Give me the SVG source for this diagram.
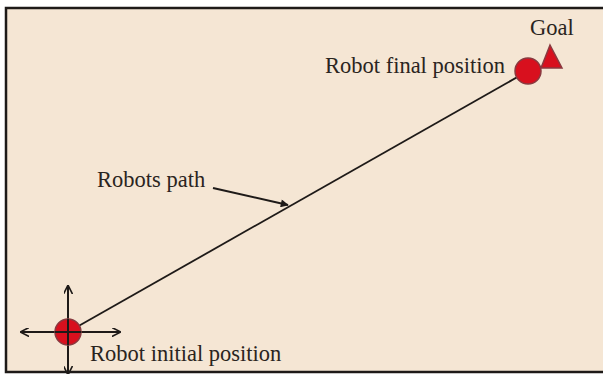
<svg xmlns="http://www.w3.org/2000/svg" width="603" height="374" viewBox="0 0 603 374">
<defs>
<style>
.t{font-family:"Liberation Serif","Times New Roman",serif;font-size:22.5px;fill:#2a2420}
.ln{stroke:#1e1a18;stroke-width:2;fill:none}
.bot{fill:#d8101e;stroke:#8a3a40;stroke-width:1.5}
</style>
<marker id="ah" viewBox="0 0 10 10" refX="9" refY="5" markerWidth="9" markerHeight="9" markerUnits="userSpaceOnUse" orient="auto">
<path d="M0,0 L10,5 L0,10" fill="none" stroke="#1e1a18" stroke-width="1.8"/>
</marker>
<marker id="ahf" viewBox="0 0 10 10" refX="9" refY="5" markerWidth="10" markerHeight="8" markerUnits="userSpaceOnUse" orient="auto">
<path d="M0,0 L10,5 L0,10 z" fill="#1e1a18"/>
</marker>
</defs>
<rect x="0" y="0" width="603" height="374" fill="#ffffff"/>
<rect x="6" y="8" width="610" height="364" fill="#f5e6d4" stroke="#1e1a18" stroke-width="2.5"/>
<g id="connectors">
<line class="ln" x1="68" y1="332" x2="528" y2="71" style="stroke-width:1.8"/>
<line class="ln" x1="68" y1="332" x2="21" y2="332" marker-end="url(#ah)"/>
<line class="ln" x1="68" y1="332" x2="120" y2="332" marker-end="url(#ah)"/>
<line class="ln" x1="68" y1="332" x2="68" y2="286" marker-end="url(#ah)"/>
<line class="ln" x1="68" y1="332" x2="68" y2="374" marker-end="url(#ah)"/>
<line class="ln" x1="213" y1="188" x2="288" y2="205" marker-end="url(#ahf)"/>
</g>
<g id="robot-initial">
<circle class="bot" cx="68" cy="332" r="13"/>
<line class="ln" x1="55" y1="332" x2="81" y2="332"/>
<line class="ln" x1="68" y1="319" x2="68" y2="345"/>
<text class="t" x="90" y="361">Robot initial position</text>
</g>
<g id="robot-final">
<circle class="bot" cx="528" cy="71" r="13"/>
<text class="t" x="325" y="73">Robot final position</text>
</g>
<g id="goal">
<polygon points="550,45 562,68 541,68" fill="#d8101e" stroke="#8a3a40" stroke-width="1.5"/>
<text class="t" x="530" y="35">Goal</text>
</g>
<g id="path-label">
<text class="t" x="97" y="187">Robots path</text>
</g>
</svg>
